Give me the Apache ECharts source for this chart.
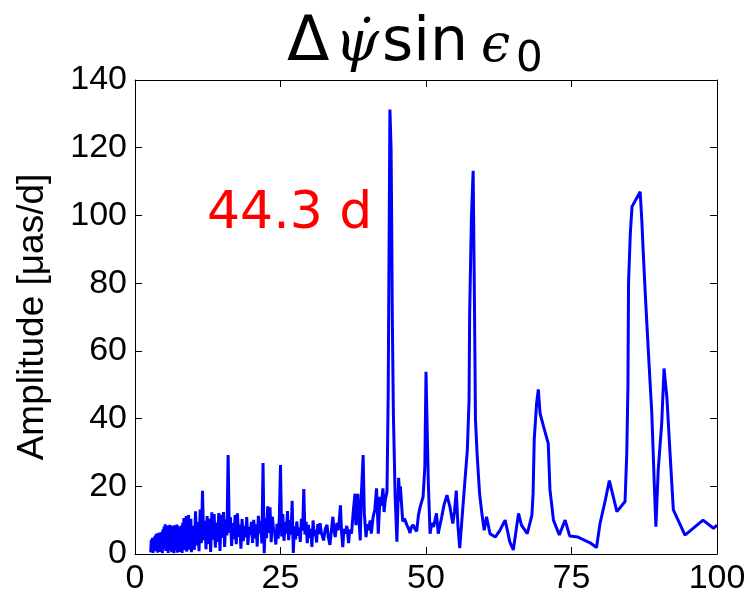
<!DOCTYPE html>
<html>
<head>
<meta charset="utf-8">
<script src="https://cdn.jsdelivr.net/npm/echarts@6/dist/echarts.min.js"></script>
<style>
  html, body { margin: 0; padding: 0; background: #fff; }
  #chart { width: 750px; height: 603px; }
</style>
</head>
<body>
<div id="chart"></div>
<script>
// ---- Data (period in days, amplitude in µas/d) ----
const xTicks = [0, 25, 50, 75, 100];
const yTicks = [0, 20, 40, 60, 80, 100, 120, 140];

// dense short-period noise region
const periodsA = [2.7,2.8,2.9,3.0,3.1,3.2,3.3,3.4,3.5,3.6,
  3.7,3.8,3.9,4.0,4.1,4.2,4.3,4.4,4.5,4.6,
  4.7,4.8,4.9,5.0,5.1,5.2,5.3,5.4,5.5,5.6,
  5.7,5.8,5.9,6.0,6.1,6.2,6.3,6.4,6.5,6.6,
  6.7,6.8,6.9,7.0,7.1,7.2,7.3,7.4,7.5,7.6,
  7.7,7.8,7.9,8.0,8.1,8.2,8.3,8.4,8.5,8.6,
  8.7,8.8,8.9,9.0,9.1,9.2,9.3,9.4,9.5,9.6,
  9.7,9.8,9.9,10.0];
const ampsA = [0.5,4.2,1,4.8,0.3,3.9,1.5,5.2,0.8,5.8,
  2,6.1,0.4,5.5,1.8,6.3,0.6,5.9,2.5,6.5,
  0.2,7.2,1.5,8.1,3,8.8,0.9,7.5,2.2,8.4,
  0.3,6.9,3.1,8.6,1.2,7.7,0.5,8.3,2.6,6.4,
  0.2,8.5,3.4,7.1,1,8.7,0.4,7.9,2.8,8.2,
  0.6,6.8,1.9,8.4,0.3,9.2,2.2,10.6,1.1,9.8,
  3.5,11.2,0.7,10.1,2.4,11.5,1.3,8.9,3.8,10.4,
  0.5,7.6,2.9,8.3];

const periodsB = [10.2,10.4,10.6,10.8,11.0,11.2,11.4,11.6,11.8,12.0,
  12.2,12.4,12.6,12.8,13.0,13.2,13.4,13.6,13.8,14.0,
  14.2,14.4,14.6,14.8,15.0,15.2,15.4,15.6,15.8,16.0,
  16.2,16.4,16.6,16.8,17.0,17.2,17.4,17.6,17.8,18.0,
  18.2,18.4,18.6,18.8,19.0,19.2,19.4,19.6,19.8,20.0,
  20.2,20.4,20.6,20.8,21.0,21.2,21.4,21.6,21.8,22.0,
  22.2,22.4,22.6,22.8,23.0,23.2,23.4,23.6,23.8,24.0,
  24.2,24.4,24.6,24.8,25.0,25.2,25.4,25.6,25.8,26.0,
  26.2,26.4,26.6,26.8,27.0,27.2,27.4,27.6,27.8,28.0,
  28.2,28.4,28.6,28.8,29.0,29.2,29.4,29.6,29.8,30.0,
  30.2,30.4,30.6,30.8,31.0,31.2,31.4,31.6,31.8,32.0];
const ampsB = [1.2,12.6,2.5,9.4,0.8,13.1,3.2,18.7,4.1,9.8,
  1.4,11.2,3,10.5,0.6,12.3,4.2,11.8,1.9,9.3,
  3.6,12.1,0.9,11.6,4.8,12.4,2.1,10.2,5.5,29.2,
  6.3,10.8,2.4,9.1,4.4,11.5,2.9,12,5.1,8.7,
  1.6,10.3,3.8,8.2,4.9,10.9,2.7,8,5.6,9.5,
  3.3,10.1,4.6,8.8,2.2,11.3,6.1,9.7,3.1,26.9,
  0.2,10.6,4.7,14.1,6.2,13.8,3.5,11,7.3,6.5,
  2.8,8.9,4.5,10.7,26.3,5.2,11.8,3.9,9.4,6,
  12.7,4.1,10,5.7,15.7,0.3,8.2,4.3,9.6,5.4,
  7.8,3.6,10.4,6.9,19.2,5.8,9.5,3.2,8.6,4.7,
  7.4,2.1,9.9,5.3,7.1,3.4,8.8,5.9,9.1,6.5];

// longer periods with the main peaks
const periodsC = [32.4,32.7,33.0,33.2,33.5,33.8,34.0,34.2,34.4,34.7,
  34.9,35.1,35.3,35.5,35.7,35.9,36.1,36.4,36.7,36.9,
  37.2,37.5,37.8,37.95,38.1,38.3,38.5,38.7,38.9,39.2,
  39.4,39.7,39.9,40.1,40.4,40.6,40.9,41.2,41.5,41.8,
  42.1,42.3,42.6,42.8,43.0,43.3,43.5,43.8,44.0,44.1,
  44.2,44.3,44.4,44.7,45.0,45.3,45.5,45.6,46.0,46.3,
  46.7,47.0,47.25,47.5,47.8,48.1,48.4,48.7,49.0,49.5,
  49.8,50.0,50.2,50.4,50.7,51.0,51.3,51.8,52.1,52.4,
  52.7,53.1,53.6,54.1,54.6,54.9,55.2,55.5,55.8,56.3,
  56.7,57.1,57.4,57.5,57.8,58.1,58.3,58.5,58.8,59.2,
  59.6,60.0,60.4,61.0,61.9,62.7,63.6,64.4,65.0,65.9,
  66.4,67.4,68.2,68.4,68.6,69.0,69.3,69.6,70.2,71.0,
  71.3,71.9,72.9,73.9,74.7,76.1,78.2,79.3,79.9,80.8,
  81.5,82.8,84.2,84.5,84.7,84.8,85.1,85.4,86.8,87.1,
  87.3,87.7,88.2,88.8,89.2,89.5,89.9,90.5,90.9,91.4,
  91.9,92.5,94.5,97.6,99.4,100];
const ampsC = [4,7.5,8.6,5.1,2.7,7.9,11,6.8,5,9.2,
  7,10.1,14.4,6.3,2,7.4,6,8.3,3.2,7.2,
  6,12.5,17.8,8.5,12,17.8,9.6,4,17.8,29.2,
  12,5,8.8,7,9.9,6,10.8,13,19.4,6,
  16.9,14.2,19.4,12.4,16,18.5,46.5,131.3,119.8,99,
  72,56,41,17,3.6,22.5,15.6,20,9.6,10.5,
  8.6,7.5,6.2,8,8.6,7.4,6.7,11.5,13.9,16.9,
  25.7,53.8,37,20.9,6,9.2,8,12,6,8.5,
  11,14.5,17.4,14,9,12.5,18.7,8,1.7,13,
  21.9,30.7,45.5,71,99,113.2,79,39.7,28.9,18,
  12,7,11,6,5,7,10,3.6,1.2,12,
  8.5,6,11.5,17.9,34,44.5,48.6,41.5,37.6,32.7,
  19,10,5.6,10,5.3,5,3.3,1.9,9,15.8,
  21.7,12.5,15.5,30,50,80,94.5,102.6,107,98,
  90,76,60,41.5,21.8,8.1,24.8,38.6,54.8,46,
  30.7,13,5.6,10,7.6,8.5];

const periods = periodsA.concat(periodsB, periodsC);
const amplitudes = ampsA.concat(ampsB, ampsC);
const lineData = periods.map((p, i) => [p, amplitudes[i]]);

const yAxisName = 'Amplitude [μas/d]';
const annotation = '44.3 d';

// ---- Chart ----
const chart = echarts.init(document.getElementById('chart'), null, { renderer: 'canvas' });
const axisFont = 'Liberation Sans';
const frameLine = { show: true, onZero: false, lineStyle: { color: '#000', width: 1 } };
const innerTick = { show: true, inside: true, length: 7, lineStyle: { color: '#000', width: 1 } };

const option = {
  animation: false,
  backgroundColor: '#ffffff',
  grid: { left: 135, right: 33, top: 80, bottom: 49, containLabel: false },
  xAxis: [
    { type: 'value', position: 'bottom', min: xTicks[0], max: xTicks[xTicks.length - 1], interval: 25,
      axisLine: frameLine, axisTick: innerTick, splitLine: { show: false },
      axisLabel: { fontFamily: axisFont, fontSize: 34, color: '#000', margin: 8 } },
    { type: 'value', position: 'top', min: xTicks[0], max: xTicks[xTicks.length - 1], interval: 25,
      axisLine: frameLine, axisTick: innerTick, splitLine: { show: false }, axisLabel: { show: false } }
  ],
  yAxis: [
    { type: 'value', position: 'left', min: yTicks[0], max: yTicks[yTicks.length - 1], interval: 20,
      axisLine: frameLine, axisTick: innerTick, splitLine: { show: false },
      axisLabel: { fontFamily: axisFont, fontSize: 34, color: '#000', margin: 8 },
      name: yAxisName, nameLocation: 'middle', nameGap: 84, nameRotate: 90,
      nameTextStyle: { fontFamily: axisFont, fontSize: 37, color: '#000' } },
    { type: 'value', position: 'right', min: yTicks[0], max: yTicks[yTicks.length - 1], interval: 20,
      axisLine: frameLine, axisTick: innerTick, splitLine: { show: false }, axisLabel: { show: false } }
  ],
  series: [{
    type: 'line', xAxisIndex: 0, yAxisIndex: 0, data: lineData,
    showSymbol: false, symbol: 'none', clip: true,
    lineStyle: { color: '#0000ff', width: 3 }
  }],
  graphic: [
    { type: 'text', x: 287, y: 44, style: { text: 'Δ', font: '62px "DejaVu Sans"', fill: '#000', textAlign: 'left', textVerticalAlign: 'middle' } },
    { type: 'text', x: 335, y: 45, style: { text: 'ψ\u0307', font: 'italic 56px "DejaVu Serif"', fill: '#000', textAlign: 'left', textVerticalAlign: 'middle' } },
    { type: 'text', x: 382, y: 44, style: { text: 'sin', font: '60px "DejaVu Sans"', fill: '#000', textAlign: 'left', textVerticalAlign: 'middle' } },
    { type: 'text', x: 481, y: 47, style: { text: 'ϵ', font: 'italic 52px "DejaVu Serif"', fill: '#000', textAlign: 'left', textVerticalAlign: 'middle' } },
    { type: 'text', x: 516, y: 60, style: { text: '0', font: '42px "DejaVu Sans"', fill: '#000', textAlign: 'left', textVerticalAlign: 'middle' } },
    { type: 'text', x: 207, y: 214, style: { text: annotation, font: '52px "DejaVu Sans"', fill: '#ff0000', textAlign: 'left', textVerticalAlign: 'middle' } }
  ]
};
chart.setOption(option);
</script>
</body>
</html>
